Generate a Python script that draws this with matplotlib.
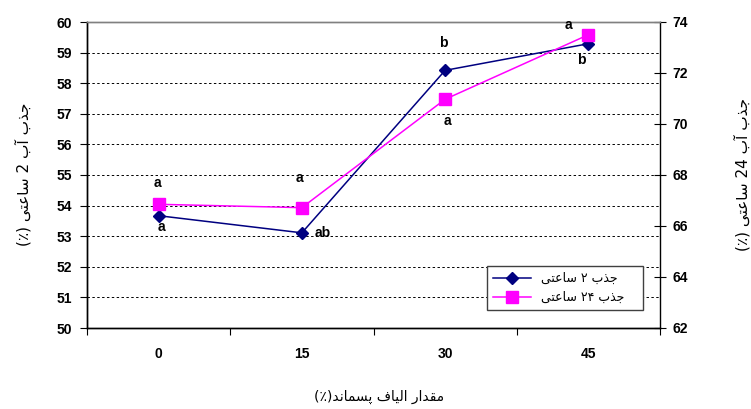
import numpy as np
import matplotlib
matplotlib.use("Agg")
import matplotlib.pyplot as plt
from matplotlib.lines import Line2D

# ---------------- data ----------------
categories = ["0", "15", "30", "45"]
water_2h = [53.67, 53.11, 58.42, 59.29]      # left axis
water_24h = [66.85, 66.72, 70.97, 73.5]      # right axis
letters_2h = ["a", "ab", "b", "b"]
letters_24h = ["a", "a", "a", "a"]
left_ticks = [50, 51, 52, 53, 54, 55, 56, 57, 58, 59, 60]
right_ticks = [62, 64, 66, 68, 70, 72, 74]
ylabel_left = "جذب آب 2 ساعتی (٪)"
ylabel_right = "جذب آب 24 ساعتی (٪)"
xlabel = "مقدار الیاف پسماند(٪)"
legend_labels = ["جذب ۲ ساعتی", "جذب ۲۴ ساعتی"]

# ------------- minimal Arabic/Persian shaping -------------
FORMS = {
    'ا': ('\uFE8D', '\uFE8E', None, None),
    'آ': ('\uFE81', '\uFE82', None, None),
    'ب': ('\uFE8F', '\uFE90', '\uFE91', '\uFE92'),
    'پ': ('\uFB56', '\uFB57', '\uFB58', '\uFB59'),
    'ت': ('\uFE95', '\uFE96', '\uFE97', '\uFE98'),
    'ج': ('\uFE9D', '\uFE9E', '\uFE9F', '\uFEA0'),
    'د': ('\uFEA9', '\uFEAA', None, None),
    'ذ': ('\uFEAB', '\uFEAC', None, None),
    'ر': ('\uFEAD', '\uFEAE', None, None),
    'س': ('\uFEB1', '\uFEB2', '\uFEB3', '\uFEB4'),
    'ع': ('\uFEC9', '\uFECA', '\uFECB', '\uFECC'),
    'ف': ('\uFED1', '\uFED2', '\uFED3', '\uFED4'),
    'ق': ('\uFED5', '\uFED6', '\uFED7', '\uFED8'),
    'ل': ('\uFEDD', '\uFEDE', '\uFEDF', '\uFEE0'),
    'م': ('\uFEE1', '\uFEE2', '\uFEE3', '\uFEE4'),
    'ن': ('\uFEE5', '\uFEE6', '\uFEE7', '\uFEE8'),
    'ی': ('\uFEEF', '\uFEF0', '\uFEF3', '\uFEF4'),
}


def dual(c):
    return c in FORMS and FORMS[c][2] is not None


def joining(c):
    return c in FORMS


def shape(s):
    out = []
    for i, c in enumerate(s):
        if c not in FORMS:
            out.append(c)
            continue
        prev = s[i - 1] if i > 0 else ''
        nxt = s[i + 1] if i + 1 < len(s) else ''
        jp = dual(prev)
        jn = dual(c) and joining(nxt)
        iso, fin, ini, med = FORMS[c]
        if jp and jn:
            out.append(med)
        elif jp:
            out.append(fin)
        elif jn:
            out.append(ini)
        else:
            out.append(iso)
    # visual order: reverse, keeping digit runs LTR, mirror parens
    tokens = []
    digits = set("0123456789۰۱۲۳۴۵۶۷۸۹")
    for ch in out:
        if ch in digits and tokens and all(t in digits for t in tokens[-1]):
            tokens[-1] += ch
        else:
            tokens.append(ch)
    tokens.reverse()
    mirror = {'(': ')', ')': '('}
    return ''.join(mirror.get(t, t) for t in tokens)


AR_FONT = ['DejaVu Sans']
NUM_FONT = ['Liberation Sans', 'DejaVu Sans']

# ---------------- figure ----------------
W, H = 751, 409
fig = plt.figure(figsize=(W / 100, H / 100), dpi=100)
ax = fig.add_axes([87 / W, 1 - 328 / H, 573 / W, 306 / H])
ax2 = ax.twinx()

x = np.arange(len(categories))
blue = '#000080'
mag = '#FF00FF'

ax.set_xlim(-0.5, len(categories) - 0.5)
ax.set_ylim(left_ticks[0], left_ticks[-1])
ax2.set_ylim(right_ticks[0], right_ticks[-1])

ax.set_yticks(left_ticks)
ax.set_yticklabels([str(t) for t in left_ticks], fontfamily=NUM_FONT,
                   fontweight='bold', fontsize=10)
ax2.set_yticks(right_ticks)
ax2.set_yticklabels([str(t) for t in right_ticks], fontfamily=NUM_FONT,
                    fontweight='bold', fontsize=10)

ax.set_xticks(np.arange(-0.5, len(categories), 1.0))
ax.set_xticklabels([])
ax.set_xticks(x, minor=True)
ax.set_xticklabels(categories, minor=True, fontfamily=NUM_FONT,
                   fontweight='bold', fontsize=10)
ax.tick_params(axis='x', which='major', length=5, direction='out', width=0.8)
ax.tick_params(axis='x', which='minor', length=0, pad=14)
ax.tick_params(axis='y', which='major', length=5, direction='out', width=0.8, pad=6)
ax2.tick_params(axis='y', which='major', length=8, direction='inout', width=0.8, pad=5)

ax.yaxis.grid(True, linestyle=(0, (2.5, 2.5)), color='black', linewidth=0.7)
gl = ax.get_ygridlines()
gl[0].set_visible(False)
gl[-1].set_visible(False)
ax.set_axisbelow(True)

for a in (ax, ax2):
    a.spines['top'].set_color('#808080')
    a.spines['top'].set_linewidth(1.0)
    a.spines['left'].set_linewidth(1.0)
    a.spines['bottom'].set_linewidth(1.0)
    a.spines['right'].set_linewidth(1.0)
ax.spines['right'].set_visible(False)

ax.plot(x, water_2h, color=blue, marker='D', ms=6.5, lw=1.1, zorder=3)
ax2.plot(x, water_24h, color=mag, marker='s', ms=8, lw=1.1, zorder=3)

# letters (offsets in pixels)
off_2h = [(3, -11), (21, 0), (-2, 27), (-7, -16)]
off_24h = [(-1, 21), (-2, 30), (2, -22), (-20, 10)]
for i in range(len(categories)):
    ax.annotate(letters_2h[i], (x[i], water_2h[i]), xytext=off_2h[i],
                textcoords='offset pixels', ha='center', va='center',
                fontsize=10, fontweight='bold', fontfamily=NUM_FONT)
    ax2.annotate(letters_24h[i], (x[i], water_24h[i]), xytext=off_24h[i],
                 textcoords='offset pixels', ha='center', va='center',
                 fontsize=10, fontweight='bold', fontfamily=NUM_FONT)

# axis labels
fig.text(23 / W, 1 - 174 / H, shape(ylabel_left), rotation=90, ha='center',
         va='center', fontsize=11, fontfamily=AR_FONT)
fig.text(742 / W, 1 - 174 / H, shape(ylabel_right), rotation=90, ha='center',
         va='center', fontsize=11, fontfamily=AR_FONT)
fig.text(379 / W, 1 - 397 / H, shape(xlabel), ha='center', va='center',
         fontsize=10, fontfamily=AR_FONT)

# legend
handles = [Line2D([], [], color=blue, marker='D', ms=6.5, lw=1.1),
           Line2D([], [], color=mag, marker='s', ms=8, lw=1.1)]
leg = fig.legend(handles, [shape(l) for l in legend_labels],
                 loc='center', bbox_to_anchor=(487 / W, 1 - 313 / H, 156 / W, 50 / H),
                 mode='expand', borderaxespad=0, fancybox=False,
                 frameon=True, edgecolor='#404040', framealpha=1,
                 handlelength=3.0, prop={'family': AR_FONT, 'size': 9},
                 labelspacing=0.5, borderpad=0.5)
leg.get_frame().set_linewidth(1.0)

fig.savefig("out.png", dpi=100)
